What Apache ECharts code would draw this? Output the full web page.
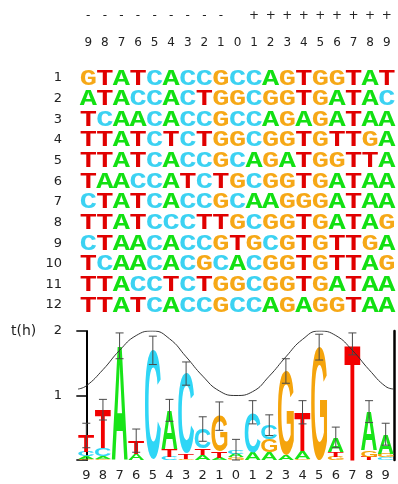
<!DOCTYPE html>
<html>
<head>
<meta charset="utf-8">
<script src="https://cdn.jsdelivr.net/npm/echarts@6/dist/echarts.min.js"></script>
<style>
    html, body {margin: 0; padding: 0; background: #fff;}
    #chart {width: 398px; height: 484px;}
</style>
</head>
<body>
<div id="chart"></div>
<script>
// positions relative to the site centre
const positions = ['9', '8', '7', '6', '5', '4', '3', '2', '1', '0', '1', '2', '3', '4', '5', '6', '7', '8', '9'];
const signs = ['-', '-', '-', '-', '-', '-', '-', '-', '-', '', '+', '+', '+', '+', '+', '+', '+', '+', '+'];
const rowNames = ['1', '2', '3', '4', '5', '6', '7', '8', '9', '10', '11', '12'];
const sequences = [
    'GTATCACCGCCAGTGGTAT',
    'ATACCACTGGCGGTGATAC',
    'TCAACACCGCCAGAGATAA',
    'TTATCTCTGGCGGTGTTGA',
    'TTATCACCGCAGATGGTTA',
    'TAACCATCTGCGGTGATAA',
    'CTATCACCGCAAGGGATAA',
    'TTATCCCTTGCGGTGATAG',
    'CTAACACCGTGCGTGTTGA',
    'TCAACACGCACGGTGTTAG',
    'TTACCTCTGGCGGTGATAA',
    'TTATCACCGCCAGAGGTAA'
];

// logo heights (bits) per position
const logoA = [0.04, 0.04, 1.77, 0.10, 0, 0.60, 0, 0.08, 0.03, 0.05, 0.12, 0.12, 0.08, 0.12, 0, 0.22, 0, 0.60, 0.30];
const logoC = [0.07, 0.12, 0, 0, 1.70, 0.05, 1.24, 0.30, 0, 0.05, 0.62, 0.22, 0, 0, 0, 0, 0, 0, 0.04];
const logoG = [0.02, 0.02, 0, 0, 0, 0, 0.02, 0, 0.55, 0.04, 0, 0.20, 1.30, 0.02, 1.75, 0.05, 0, 0.10, 0.06];
const logoT = [0.25, 0.60, 0, 0.20, 0, 0.12, 0.08, 0.10, 0.10, 0, 0, 0, 0, 0.60, 0, 0.08, 1.80, 0.05, 0];
const errorBars = [0.19, 0.16, 0.20, 0.18, 0.22, 0.17, 0.18, 0.19, 0.22, 0.18, 0.18, 0.16, 0.19, 0.18, 0.20, 0.16, 0.17, 0.17, 0.17];

// cosine-like curve over the logo
const curveX = [-0.5, 0, 1, 2, 3, 4, 5, 6, 7, 8, 9, 10, 11, 12, 13, 14, 15, 16, 17, 18, 18.5];
const curveY = [1.10, 1.15, 1.40, 1.70, 1.93, 2.00, 1.88, 1.60, 1.30, 1.07, 1.00, 1.06, 1.30, 1.60, 1.87, 2.00, 1.93, 1.70, 1.40, 1.14, 1.10];

const BASES = 'ACGT';
const alignColors = {A: '#12e012', C: '#3cd2f2', G: '#f6a817', T: '#e00000'};
const logoColors = {A: '#18e418', C: '#2fd6f6', G: '#f5a40c', T: '#f20000'};

const alignData = [];
sequences.forEach((s, r) => {
    s.split('').forEach((ch, c) => alignData.push([c, r, BASES.indexOf(ch)]));
});

const logoData = [];
const stackTops = [];
positions.forEach((p, i) => {
    const col = [[0, logoA[i]], [1, logoC[i]], [2, logoG[i]], [3, logoT[i]]]
        .filter(d => d[1] > 0)
        .sort((a, b) => a[1] - b[1]);
    let y = 0;
    col.forEach(d => {
        logoData.push([i, d[0], y, y + d[1]]);
        y += d[1];
    });
    stackTops.push([i, y, errorBars[i]]);
});

// ink box of a glyph, measured around a 'middle' baseline (what zrender uses)
const LOGO_SIZE = 100;
const LOGO_FONT = 'bold ' + LOGO_SIZE + 'px Liberation Sans';
const measureCtx = document.createElement('canvas').getContext('2d');
const glyphBoxes = {};
function glyphBox(ch) {
    if (!glyphBoxes[ch]) {
        measureCtx.font = LOGO_FONT;
        measureCtx.textBaseline = 'middle';
        measureCtx.textAlign = 'center';
        const m = measureCtx.measureText(ch);
        glyphBoxes[ch] = {
            asc: m.actualBoundingBoxAscent, desc: m.actualBoundingBoxDescent,
            left: m.actualBoundingBoxLeft, right: m.actualBoundingBoxRight
        };
    }
    return glyphBoxes[ch];
}

function renderBase(params, api) {
    const p = api.coord([api.value(0), api.value(1)]);
    const ch = BASES[api.value(2)];
    return {
        type: 'text',
        x: p[0], y: p[1] + 1,
        scaleX: 1.3,
        style: {
            text: ch, fontFamily: 'Liberation Mono', fontWeight: 'bold', fontSize: 22,
            fill: alignColors[ch], align: 'center', verticalAlign: 'middle'
        }
    };
}

function renderLogo(params, api) {
    const x = api.value(0);
    const ch = BASES[api.value(1)];
    const bot = api.coord([x, api.value(2)]);
    const top = api.coord([x, api.value(3)]);
    const h = bot[1] - top[1];
    if (h < 0.5) return;
    const w = api.size([1, 0])[0] * 0.96;
    const b = glyphBox(ch);
    const sx = w / (b.left + b.right);
    const sy = h / (b.asc + b.desc);
    return {
        type: 'text',
        x: bot[0] - sx * (b.right - b.left) / 2,
        y: bot[1] - sy * b.desc,
        scaleX: sx, scaleY: sy,
        style: {
            text: ch, fontFamily: 'Liberation Sans', fontWeight: 'bold', fontSize: LOGO_SIZE,
            fill: logoColors[ch], align: 'center', verticalAlign: 'middle'
        }
    };
}

function renderError(params, api) {
    const x = api.value(0), y = api.value(1), e = api.value(2);
    const hi = api.coord([x, y + e]);
    const lo = api.coord([x, Math.max(0, y - e)]);
    const cap = 4;
    const style = {stroke: '#4a4a4a', lineWidth: 1};
    return {
        type: 'group',
        children: [
            {type: 'line', shape: {x1: hi[0], y1: hi[1], x2: lo[0], y2: lo[1]}, style},
            {type: 'line', shape: {x1: hi[0] - cap, y1: hi[1], x2: hi[0] + cap, y2: hi[1]}, style},
            {type: 'line', shape: {x1: lo[0] - cap, y1: lo[1], x2: lo[0] + cap, y2: lo[1]}, style}
        ]
    };
}

const keys = positions.map((p, i) => signs[i] + p);
const labelFont = {fontFamily: 'DejaVu Sans', fontSize: 12, color: '#222'};

const chart = echarts.init(document.getElementById('chart'), null, {renderer: 'canvas'});
chart.setOption({
    animation: false,
    grid: [
        {left: 80, width: 315, top: 67.7, height: 247.7},
        {left: 78, width: 316, top: 331, height: 129}
    ],
    xAxis: [
        {
            type: 'category', gridIndex: 0, position: 'top', data: keys,
            axisLine: {show: false}, axisTick: {show: false},
            axisLabel: Object.assign({margin: 19, interval: 0, formatter: (v, i) => positions[i]}, labelFont)
        },
        {
            type: 'category', gridIndex: 0, position: 'top', offset: 27, data: keys,
            axisLine: {show: false}, axisTick: {show: false},
            axisLabel: Object.assign({margin: 19, interval: 0, formatter: (v, i) => signs[i]}, labelFont)
        },
        {
            type: 'category', gridIndex: 1, position: 'bottom', data: keys,
            axisLine: {show: false}, axisTick: {show: false},
            axisLabel: Object.assign({margin: 9, interval: 0, formatter: (v, i) => positions[i]}, labelFont, {fontSize: 13})
        },
        {
            type: 'value', gridIndex: 1, min: -0.5, max: 18.5, show: false
        }
    ],
    yAxis: [
        {
            type: 'category', gridIndex: 0, data: rowNames, inverse: true,
            axisLine: {show: false}, axisTick: {show: false},
            axisLabel: Object.assign({margin: 18}, labelFont, {fontSize: 13})
        },
        {
            type: 'value', gridIndex: 1, min: 0, max: 2, interval: 1,
            name: 't(h)', nameLocation: 'end', nameGap: 0,
            nameTextStyle: {fontFamily: 'DejaVu Sans', fontSize: 14, color: '#222', align: 'right', verticalAlign: 'middle', padding: [0, 50, 0, 0]},
            axisLine: {show: true, lineStyle: {color: '#000', width: 2}},
            axisTick: {show: true, length: 10, lineStyle: {color: '#000', width: 1.5}},
            axisLabel: Object.assign({margin: 16, formatter: v => v === 0 ? '' : String(v)}, labelFont, {fontSize: 13}),
            splitLine: {show: false}
        },
        {
            type: 'value', gridIndex: 1, min: 0, max: 2, position: 'right',
            axisLine: {show: true, lineStyle: {color: '#000', width: 2.5}},
            axisTick: {show: false}, axisLabel: {show: false}, splitLine: {show: false}
        }
    ],
    series: [
        {
            type: 'custom', xAxisIndex: 0, yAxisIndex: 0,
            renderItem: renderBase, data: alignData, encode: {x: 0, y: 1}
        },
        {
            type: 'custom', xAxisIndex: 3, yAxisIndex: 1,
            renderItem: renderLogo, data: logoData, encode: {x: 0, y: 3}, z: 2
        },
        {
            type: 'custom', xAxisIndex: 3, yAxisIndex: 1,
            renderItem: renderError, data: stackTops, encode: {x: 0, y: 1}, z: 3
        },
        {
            type: 'line', xAxisIndex: 3, yAxisIndex: 1,
            data: curveX.map((x, i) => [x, curveY[i]]),
            smooth: true, symbol: 'none', z: 4,
            lineStyle: {color: '#333', width: 1}
        }
    ]
});
</script>
</body>
</html>
